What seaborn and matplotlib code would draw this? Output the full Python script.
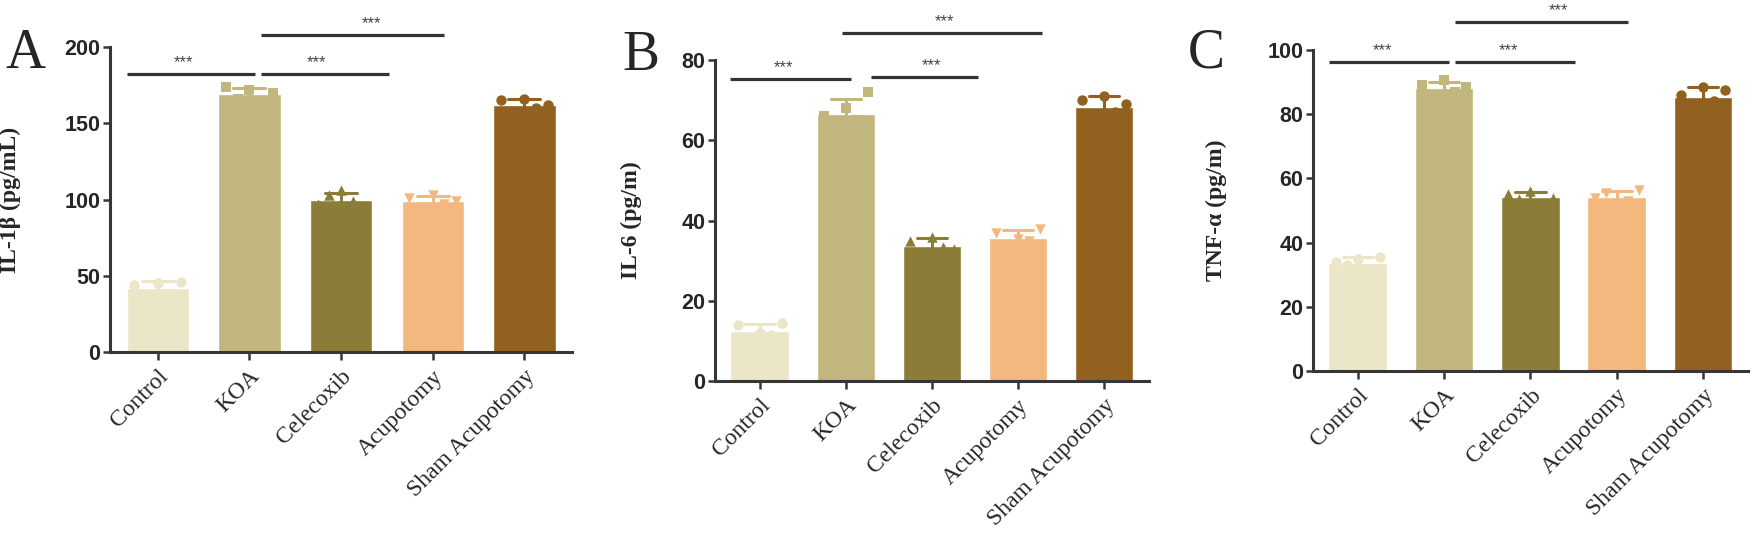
import numpy as np
import pandas as pd
import matplotlib
matplotlib.use("Agg")
import matplotlib.pyplot as plt
import seaborn as sns

# %% data
groups = ["Control", "KOA", "Celecoxib", "Acupotomy", "Sham Acupotomy"]
colors = ["#ECE6C8", "#C1B67D", "#8B7D38", "#F2B87E", "#93611F"]
markers = ["o", "s", "^", "v", "o"]

il1b_values = [
    [44, 36, 45, 38, 46],
    [174, 166, 172, 164, 170],
    [97, 103, 106, 99, 95],
    [101, 94, 103, 97, 99],
    [165, 157, 166, 160, 162],
]
il6_values = [
    [14, 10, 12, 11.5, 14.5],
    [66, 62, 68, 65, 72],
    [35, 31, 36, 33.5, 33],
    [37, 33, 35.5, 35, 38],
    [70, 64, 71, 67, 69],
]
tnf_values = [
    [34, 33, 35, 31, 35.5],
    [89, 85, 90.5, 87, 88.5],
    [55, 53.5, 56, 52, 54],
    [54, 55.5, 52, 53, 56.5],
    [86, 80, 88.5, 84, 87.5],
]

# significance brackets: (x start, x end, height, star x)
sig_a = [(-0.33, 1.06, 182, 0.28), (1.13, 2.52, 182, 1.73), (1.13, 3.12, 208, 2.33)]
sig_b = [(-0.35, 1.06, 75.2, 0.28), (1.29, 2.53, 75.8, 1.99), (0.95, 3.28, 86.7, 2.14)]
sig_c = [(-0.33, 1.06, 96.3, 0.28), (1.13, 2.52, 96.3, 1.74), (1.13, 3.13, 108.7, 2.33)]

panels = [
    dict(letter="A", values=il1b_values, ylabel="IL-1β (pg/mL)", ymax=200,
         yticks=[0, 50, 100, 150, 200], sig=sig_a,
         rect=[0.0628, 0.3517, 0.2637, 0.5617], labx=-0.193, letter_xy=(5, 68)),
    dict(letter="B", values=il6_values, ylabel="IL-6 (pg/m)", ymax=80,
         yticks=[0, 20, 40, 60, 80], sig=sig_b,
         rect=[0.4081, 0.2983, 0.2477, 0.5912], labx=-0.168, letter_xy=(622, 70)),
    dict(letter="C", values=tnf_values, ylabel="TNF-α (pg/m)", ymax=100,
         yticks=[0, 20, 40, 60, 80, 100], sig=sig_c,
         rect=[0.7494, 0.3168, 0.2483, 0.5912], labx=-0.198, letter_xy=(1188, 68)),
]

# %% style
sns.set_style("ticks")
plt.rcParams["font.family"] = ["Liberation Sans", "DejaVu Sans"]
axis_col = "#363636"

W, H = 1752, 543
fig = plt.figure(figsize=(W / 100, H / 100), dpi=100)

for p in panels:
    ax = fig.add_axes(p["rect"])
    rows = []
    for g, vals in zip(groups, p["values"]):
        for k, v in enumerate(vals):
            rows.append({"group": g, "rep": k, "value": v})
    df = pd.DataFrame(rows)

    sns.barplot(data=df, x="group", y="value", hue="group", order=groups,
                hue_order=groups, palette=colors, errorbar="sd", capsize=0.35,
                width=0.68, err_kws={"linewidth": 2.2}, legend=False, ax=ax,
                saturation=1)
    # error bars in the colour of their bar
    for patch, line in zip(ax.patches, ax.lines):
        line.set_color(patch.get_facecolor())
        line.set_zorder(2.5)

    # replicate points spread evenly across each bar
    for i, g in enumerate(groups):
        sub = df[df["group"] == g]
        n = sub["rep"].nunique()
        before = len(ax.collections)
        sns.stripplot(data=sub, x="group", y="value", hue="rep", order=groups,
                      palette=[colors[i]] * n, dodge=True, jitter=False,
                      marker=markers[i], size=7.5, legend=False, ax=ax,
                      zorder=3)
        # pull the points a little toward the bar centre
        for coll in ax.collections[before:]:
            off = np.array(coll.get_offsets(), dtype=float)
            if off.size:
                centre = np.round(off[:, 0])
                off[:, 0] = centre + 0.8 * (off[:, 0] - centre)
                coll.set_offsets(off)

    ax.set_xlim(-0.52, 4.52)
    ax.set_ylim(0, p["ymax"])
    ax.set_yticks(p["yticks"])
    ax.set_xlabel("")
    ax.set_ylabel(p["ylabel"], fontsize=17, fontweight="bold",
                  family=["Liberation Serif", "DejaVu Serif"])
    ax.yaxis.set_label_coords(p["labx"], 0.5)

    for side in ["top", "right"]:
        ax.spines[side].set_visible(False)
    for side in ["left", "bottom"]:
        ax.spines[side].set_linewidth(2.2)
        ax.spines[side].set_color(axis_col)
    ax.tick_params(axis="y", length=5, width=1.8, color=axis_col, pad=2,
                   labelsize=15.5)
    ax.tick_params(axis="x", length=6, width=1.8, color=axis_col, pad=4)
    for lab in ax.get_yticklabels():
        lab.set_fontweight("bold")
    ax.set_xticks(range(len(groups)))
    ax.set_xticklabels(groups, rotation=45, ha="right", va="top",
                       rotation_mode="anchor", fontsize=17,
                       family=["Liberation Serif", "DejaVu Serif"])

    for x0, x1, y, xs in p["sig"]:
        ax.plot([x0, x1], [y, y], color="#333333", lw=2.3, clip_on=False,
                solid_capstyle="butt")
        ax.annotate("***", xy=(xs, y), xytext=(0, 3), textcoords="offset points",
                    ha="center", va="bottom", fontsize=12, color="#444444",
                    annotation_clip=False)

    lx, ly = p["letter_xy"]
    fig.text(lx / W, 1 - ly / H, p["letter"], fontsize=40,
             family=["Liberation Serif", "DejaVu Serif"], va="baseline", ha="left")

fig.savefig("out.png", dpi=100)
